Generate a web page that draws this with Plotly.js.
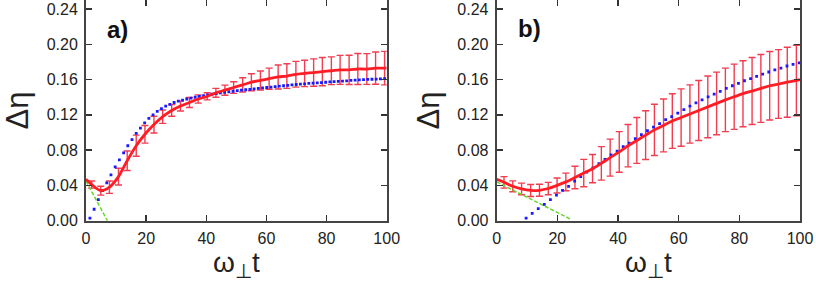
<!DOCTYPE html>
<html>
<head>
<meta charset="utf-8">
<script src="https://cdn.plot.ly/plotly-3.0.1.min.js"></script>
<style>html,body{margin:0;padding:0;background:#fff;}#chart{width:816px;height:283px;}</style>
</head>
<body>
<div id="chart"></div>
<script>
// ---------- Panel a ----------
const barXA = [1.9, 4.9, 7.8, 10.8, 13.7, 16.7, 19.6, 22.6, 25.5, 28.5, 31.4, 34.4, 37.3, 40.3, 43.2, 46.2, 49.1, 52.1, 55.0, 58.0, 60.9, 63.9, 66.8, 69.8, 72.7, 75.7, 78.6, 81.6, 84.5, 87.5, 90.4, 93.4, 96.3, 99.3];
const barYA = [0.041, 0.034, 0.038, 0.050, 0.068, 0.085, 0.098, 0.109, 0.118, 0.125, 0.130, 0.134, 0.138, 0.141, 0.145, 0.148, 0.151, 0.154, 0.157, 0.159, 0.161, 0.163, 0.164, 0.166, 0.167, 0.168, 0.169, 0.170, 0.171, 0.171, 0.172, 0.172, 0.173, 0.173];
const errA  = [0.004, 0.005, 0.007, 0.0095, 0.011, 0.012, 0.010, 0.0095, 0.0076, 0.0066, 0.0057, 0.0057, 0.0047, 0.004, 0.005, 0.0057, 0.0066, 0.008, 0.0096, 0.0108, 0.012, 0.0136, 0.014, 0.0146, 0.015, 0.0155, 0.016, 0.0157, 0.0164, 0.0166, 0.0176, 0.0174, 0.0183, 0.019];
const lineStartA = [0, 0.047];
const lineEndA = [100, 0.173];
const blueXA = [1.3, 2.7, 4.1, 5.5, 6.9, 8.3, 9.7, 11.1, 12.5, 13.9, 15.3, 16.7, 18.1, 19.5, 20.9, 22.3, 23.7, 25.1, 26.5, 27.9, 29.3, 30.7, 32.1, 33.5, 34.9, 36.3, 37.7, 39.1, 40.5, 41.9, 43.3, 44.7, 46.1, 47.5, 48.9, 50.3, 51.7, 53.1, 54.5, 55.9, 57.3, 58.7, 60.1, 61.5, 62.9, 64.3, 65.7, 67.1, 68.5, 69.9, 71.3, 72.7, 74.1, 75.5, 76.9, 78.3, 79.7, 81.1, 82.5, 83.9, 85.3, 86.7, 88.1, 89.5, 90.9, 92.3, 93.7, 95.1, 96.5, 97.9, 99.3];
const blueYA = [0.003, 0.013, 0.024, 0.034, 0.043, 0.052, 0.061, 0.069, 0.077, 0.085, 0.092, 0.099, 0.105, 0.111, 0.116, 0.120, 0.124, 0.127, 0.130, 0.132, 0.134, 0.1355, 0.1368, 0.138, 0.139, 0.140, 0.141, 0.1418, 0.1426, 0.1434, 0.1442, 0.145, 0.1456, 0.1462, 0.1468, 0.1474, 0.148, 0.1485, 0.149, 0.1495, 0.150, 0.1505, 0.151, 0.1515, 0.152, 0.1525, 0.153, 0.1535, 0.154, 0.1544, 0.1548, 0.1552, 0.1556, 0.156, 0.1563, 0.1566, 0.157, 0.1573, 0.1576, 0.158, 0.1583, 0.1586, 0.159, 0.1593, 0.1596, 0.160, 0.1602, 0.1604, 0.1606, 0.1608, 0.161];
const greenXA = [0, 7.1];
const greenYA = [0.045, 0.0];

// ---------- Panel b ----------
const barXB = [2.4, 5.3, 8.2, 11.2, 14.1, 17.0, 19.9, 22.8, 25.8, 28.7, 31.6, 34.5, 37.4, 40.4, 43.3, 46.2, 49.1, 52.0, 55.0, 57.9, 60.8, 63.7, 66.6, 69.6, 72.5, 75.4, 78.3, 81.2, 84.2, 87.1, 90.0, 92.9, 95.8, 98.8];
const barYB = [0.0435, 0.039, 0.036, 0.0343, 0.0345, 0.0365, 0.040, 0.044, 0.049, 0.054, 0.059, 0.065, 0.0715, 0.078, 0.085, 0.091, 0.097, 0.103, 0.108, 0.113, 0.117, 0.121, 0.125, 0.129, 0.133, 0.137, 0.1405, 0.144, 0.147, 0.150, 0.153, 0.155, 0.157, 0.159];
const errB  = [0.0065, 0.0062, 0.0066, 0.0068, 0.0068, 0.007, 0.0085, 0.010, 0.0128, 0.0155, 0.016, 0.019, 0.021, 0.023, 0.024, 0.026, 0.0276, 0.029, 0.030, 0.031, 0.0325, 0.033, 0.034, 0.035, 0.0355, 0.036, 0.037, 0.0374, 0.038, 0.0385, 0.0388, 0.039, 0.0397, 0.040];
const lineStartB = [0, 0.047];
const lineEndB = [100, 0.160];
const blueXB = [9.7, 11.7, 13.7, 15.7, 17.7, 19.7, 21.7, 23.7, 25.7, 27.7, 29.7, 31.7, 33.7, 35.7, 37.7, 39.7, 41.7, 43.7, 45.7, 47.7, 49.7, 51.7, 53.7, 55.7, 57.7, 59.7, 61.7, 63.7, 65.7, 67.7, 69.7, 71.7, 73.7, 75.7, 77.7, 79.7, 81.7, 83.7, 85.7, 87.7, 89.7, 91.7, 93.7, 95.7, 97.7, 99.7];
const blueYB = [0.003, 0.0084, 0.0136, 0.0186, 0.024, 0.029, 0.0345, 0.039, 0.045, 0.050, 0.055, 0.0595, 0.0646, 0.0696, 0.0745, 0.079, 0.084, 0.088, 0.093, 0.0975, 0.102, 0.106, 0.110, 0.1145, 0.118, 0.122, 0.126, 0.130, 0.1337, 0.137, 0.1405, 0.1436, 0.1467, 0.150, 0.153, 0.1558, 0.1587, 0.161, 0.1637, 0.1663, 0.1686, 0.1709, 0.173, 0.1754, 0.1773, 0.179];
const greenXB = [0, 24.5];
const greenYB = [0.044, 0.0015];

// ---------- Axis labels ----------
const xTickVals = [0, 20, 40, 60, 80, 100];
const xTickText = ['0', '20', '40', '60', '80', '100'];
const yTickVals = [0.00, 0.04, 0.08, 0.12, 0.16, 0.20, 0.24];
const yTickText = ['0.00', '0.04', '0.08', '0.12', '0.16', '0.20', '0.24'];
const xTitle = 'ω<sub>⊥</sub>t';
const yTitle = 'Δη';
const panelLabels = ['a)', 'b)'];

const RED = 'rgb(255,28,36)';
const ERR = 'rgb(242,60,80)';
const BLUE = 'rgb(25,25,255)';
const GREEN = 'rgb(100,215,40)';

function panel(xa, ya, bx, by, err, ls, le, gx, gy, blx, bly) {
  return [
    {x: bx, y: by, xaxis: xa, yaxis: ya, type: 'scatter', mode: 'markers',
     marker: {size: 1, color: 'rgba(0,0,0,0)'},
     error_y: {type: 'data', array: err, visible: true, color: ERR, thickness: 1.4, width: 3.5},
     hoverinfo: 'skip'},
    {x: gx, y: gy, xaxis: xa, yaxis: ya, type: 'scatter', mode: 'lines',
     line: {color: GREEN, width: 1.5, dash: '4px,2px'}},
    {x: blx, y: bly, xaxis: xa, yaxis: ya, type: 'scatter', mode: 'markers',
     marker: {symbol: 'square', size: 2.8, color: BLUE}},
    {x: [ls[0]].concat(bx, [le[0]]), y: [ls[1]].concat(by, [le[1]]), xaxis: xa, yaxis: ya,
     type: 'scatter', mode: 'lines', line: {color: RED, width: 2.8, shape: 'spline', smoothing: 0.8}}
  ];
}

const data = [].concat(
  panel('x', 'y', barXA, barYA, errA, lineStartA, lineEndA, greenXA, greenYA, blueXA, blueYA),
  panel('x2', 'y2', barXB, barYB, errB, lineStartB, lineEndB, greenXB, greenYB, blueXB, blueYB)
);

const FONT = 'Liberation Sans, Arial, Helvetica, sans-serif';
function xax(dom, yname) {
  return {domain: dom, anchor: yname, range: [0, 100], tickvals: xTickVals, ticktext: xTickText,
    ticks: 'inside', ticklen: 6, tickwidth: 1.5, tickcolor: '#333',
    showline: true, linecolor: '#444', linewidth: 2, mirror: 'ticks',
    showgrid: false, zeroline: false, tickfont: {family: FONT, size: 16, color: '#222'},
    ticklabelstandoff: 2,
    title: {text: xTitle, font: {family: FONT, size: 28, color: '#222'}, standoff: 3}};
}
function yax(dom, xname) {
  return {domain: dom, anchor: xname, range: [0, 0.25], tickvals: yTickVals, ticktext: yTickText,
    ticks: 'inside', ticklen: 6, tickwidth: 1.5, tickcolor: '#333',
    showline: true, linecolor: '#444', linewidth: 2, mirror: 'ticks',
    showgrid: false, zeroline: false, tickfont: {family: FONT, size: 16, color: '#222'},
    ticklabelstandoff: 3,
    title: {text: yTitle, font: {family: FONT, size: 31, color: '#222'}, standoff: 9}};
}

const layout = {
  width: 816, height: 283,
  margin: {l: 0, r: 0, t: 0, b: 0},
  paper_bgcolor: '#fff', plot_bgcolor: '#fff',
  showlegend: false,
  xaxis: xax([0.1054, 0.4739], 'y'),
  yaxis: yax([0.2201, 0.9993], 'x'),
  xaxis2: xax([0.6087, 0.9804], 'y2'),
  yaxis2: yax([0.2201, 0.9993], 'x2'),
  annotations: [
    {text: '<b>' + panelLabels[0] + '</b>', xref: 'paper', yref: 'paper', x: 105 / 816, y: 1 - 29 / 283,
     xanchor: 'left', yanchor: 'middle', showarrow: false, font: {family: FONT, size: 24, color: '#111'}},
    {text: '<b>' + panelLabels[1] + '</b>', xref: 'paper', yref: 'paper', x: 516 / 816, y: 1 - 28 / 283,
     xanchor: 'left', yanchor: 'middle', showarrow: false, font: {family: FONT, size: 24, color: '#111'}}
  ]
};

Plotly.newPlot('chart', data, layout, {staticPlot: true, displayModeBar: false});
</script>
</body>
</html>
